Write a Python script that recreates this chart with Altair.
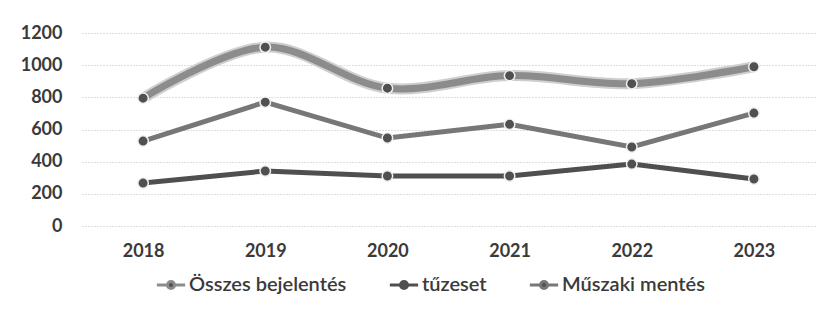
import altair as alt
import pandas as pd

years = ["2018", "2019", "2020", "2021", "2022", "2023"]
series_names = ["Összes bejelentés", "tűzeset", "Műszaki mentés"]
osszes = [795, 1112, 857, 935, 885, 990]
tuzeset = [267, 342, 311, 311, 385, 292]
muszaki = [528, 770, 547, 632, 491, 702]

rows = []
for name, vals in zip(series_names, [osszes, tuzeset, muszaki]):
    for y, v in zip(years, vals):
        rows.append({"Év": y, "Sorozat": name, "Érték": v})
df = pd.DataFrame(rows)

color_scale = alt.Scale(domain=series_names, range=["#8c8c8c", "#4f4f4f", "#777777"])
x_enc = alt.X("Év:N", sort=years, scale=alt.Scale(paddingInner=0, paddingOuter=0.5),
              axis=alt.Axis(title=None, labelAngle=0, domain=False, ticks=False, grid=False,
                            labelPadding=16, labelFontSize=18, labelColor="#3a3a3a",
                            labelFontWeight="bold", labelFont="Lato"))
y_enc = alt.Y("Érték:Q", scale=alt.Scale(domain=[0, 1200], nice=False),
              axis=alt.Axis(title=None, values=[0, 200, 400, 600, 800, 1000, 1200], format="d",
                            domain=False, ticks=False, labelPadding=20, labelFontSize=18,
                            labelColor="#3a3a3a", labelFontWeight="bold", labelFont="Lato",
                            gridColor="#bdbdbd", gridDash=[1, 2], gridWidth=1))

base = alt.Chart(df)
total = base.transform_filter(alt.datum.Sorozat == "Összes bejelentés")

glow = total.mark_line(interpolate="catmull-rom", strokeWidth=11, color="#cfcfcf").encode(
    x=x_enc, y=y_enc)
total_line = total.mark_line(interpolate="catmull-rom", strokeWidth=7).encode(
    x=x_enc, y=y_enc,
    color=alt.Color("Sorozat:N", scale=color_scale, sort=series_names,
                    legend=alt.Legend(title=None, orient="none", direction="horizontal",
                                      legendX=73, legendY=236,
                                      symbolType="M-1,0H-0.3M0.3,0H1M0.25,0A0.25,0.25 0 1,1 -0.25,0A0.25,0.25 0 1,1 0.25,0",
                                      symbolSize=800, symbolStrokeWidth=3,
                                      symbolFillColor="#505050",
                                      labelFontSize=20, labelFont="Lato", labelFontWeight=600,
                                      labelColor="#3a3a3a", labelLimit=300,
                                      columnPadding=36, labelOffset=2)))
others = base.transform_filter(alt.datum.Sorozat != "Összes bejelentés").mark_line(
    strokeWidth=5).encode(
    x=x_enc, y=y_enc,
    color=alt.Color("Sorozat:N", scale=color_scale, sort=series_names, legend=None))
points = base.mark_point(filled=True, size=110, opacity=1, stroke="#f0f0f0", strokeWidth=1.5,
                         fill="#505050", shape="circle").encode(x=x_enc, y=y_enc)

chart = alt.layer(glow, total_line, others, points).properties(
    width=733, height=193,
    autosize=alt.AutoSizeParams(type="none"),
    padding={"left": 74, "top": 25, "right": 13, "bottom": 75},
).configure_view(stroke=None)

chart.save("out.html", embed_options={"renderer": "svg", "actions": False})
